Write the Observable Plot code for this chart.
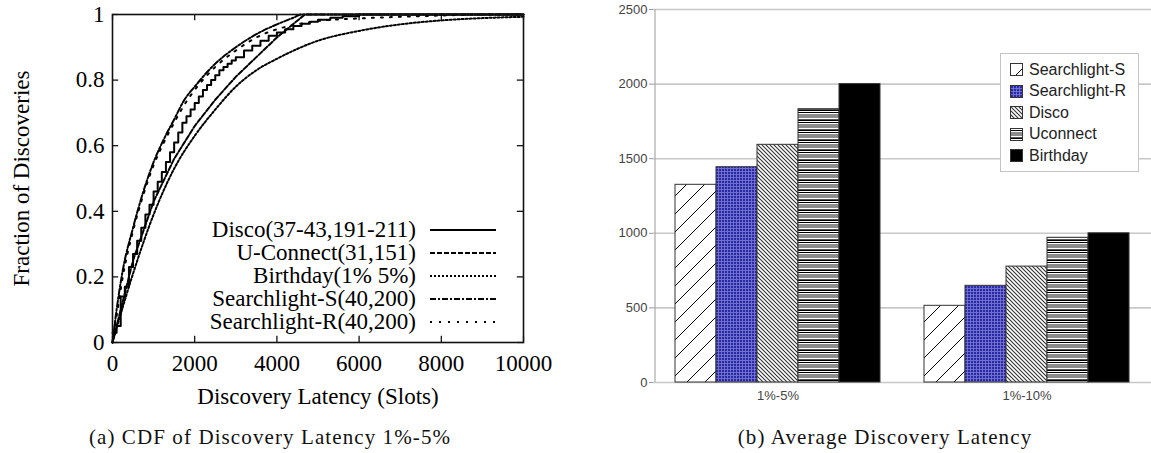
<!DOCTYPE html>
<html><head><meta charset="utf-8">
<script src="https://cdn.jsdelivr.net/npm/d3@7"></script>
<script src="https://cdn.jsdelivr.net/npm/@observablehq/plot@0.6"></script>
<style>
body{margin:0;background:#fff;width:1151px;height:453px;position:relative;overflow:hidden}
#left{position:absolute;left:0;top:0}
#right{position:absolute;left:600px;top:0}
.cap{position:absolute;font-family:"Liberation Serif",serif;font-size:21px;letter-spacing:1.1px;color:#111;white-space:nowrap;transform:translate(-50%,-50%)}
#lleg{position:absolute;left:64px;top:218px;font-family:"Liberation Serif",serif;font-size:23px;color:#000}
#lleg .row{display:flex;align-items:center;justify-content:flex-end;height:23px;width:433px}
#lleg svg{margin-left:13px}
#rleg{position:absolute;left:1000px;top:53px;width:139px;height:119px;border:1px solid #c4c4c4;background:#fff;font-family:"Liberation Sans",Arial,sans-serif;font-size:16px;color:#222;box-sizing:border-box;padding-top:5px}
#rleg .row{display:flex;align-items:center;height:21.5px;padding-left:9px}
#rleg svg{margin-right:6px}
</style></head><body>
<svg width="0" height="0" style="position:absolute">
<defs>
<pattern id="pSS" patternUnits="userSpaceOnUse" width="18" height="18">
<rect width="18" height="18" fill="#fff"/>
<path d="M0,18L18,0M-2,2L2,-2M16,20L20,16" stroke="#000" stroke-width="1"/>
</pattern>
<pattern id="pSR" patternUnits="userSpaceOnUse" width="3" height="3">
<rect width="3" height="3" fill="#2a2aa6"/>
<path d="M0,0.5H3M0.5,0V3" stroke="#7b7bd6" stroke-width="0.8"/>
</pattern>
<pattern id="pDI" patternUnits="userSpaceOnUse" width="4" height="4">
<rect width="4" height="4" fill="#fff"/>
<path d="M0,0L4,4M-1,3L1,5M3,-1L5,1" stroke="#333" stroke-width="1.1"/>
</pattern>
<pattern id="pUC" patternUnits="userSpaceOnUse" width="10" height="10">
<rect width="10" height="10" fill="#fff"/>
<rect y="0" width="10" height="1" fill="#000"/>
<rect y="2" width="10" height="1" fill="#000"/>
<rect y="4" width="10" height="4" fill="#8c8c8c"/>
<rect y="9" width="10" height="1" fill="#555"/>
</pattern>
</defs></svg>
<div id="left"></div>
<div id="right"></div>
<div id="lleg"></div>
<div id="rleg"></div>
<div class="cap" style="left:270px;top:437px">(a) CDF of Discovery Latency 1%-5%</div>
<div class="cap" style="left:885px;top:437px">(b) Average Discovery Latency</div>
<script>
// ---------- Left chart data (CDF of discovery latency, 1%-5%) ----------
const xTicks = [0, 2000, 4000, 6000, 8000, 10000];
const yTicks = [0, 0.2, 0.4, 0.6, 0.8, 1];

const discoName = "Disco(37-43,191-211)";
const discoX = [0,100,200,300,400,500,600,700,800,900,1000,1100,1200,1300,1400,1500,1600,1700,1800,1900,2000,2100,2200,2300,2400,2500,2600,2700,2800,2900,3000,3200,3400,3600,3800,4000,4200,4400,4600,4800,5000,5300,5600,6000,10000];
const discoY = [0.03,0.05,0.14,0.17,0.23,0.27,0.31,0.35,0.39,0.42,0.46,0.49,0.52,0.55,0.58,0.61,0.64,0.67,0.69,0.71,0.73,0.75,0.77,0.785,0.8,0.815,0.83,0.84,0.85,0.86,0.87,0.89,0.905,0.92,0.935,0.945,0.955,0.965,0.972,0.978,0.984,0.99,0.995,1,1];

const uconName = "U-Connect(31,151)";
const uconX = [0,200,500,1000,1500,2000,2500,3000,3500,4000,4681,10000];
const uconY = [0,0.1,0.25,0.43,0.56,0.66,0.74,0.81,0.87,0.93,1,1];

const bdayName = "Birthday(1% 5%)";
const bdayX = [0,500,1000,1500,2000,2500,3000,3500,4000,5000,6000,7000,8000,9000,10000];
const bdayY = [0,0.21,0.39,0.53,0.63,0.71,0.78,0.83,0.865,0.92,0.95,0.97,0.982,0.989,0.993];

const slsName = "Searchlight-S(40,200)";
const slsX = [0,100,250,500,750,1000,1250,1500,1750,2000,2500,3000,3500,4000,4400,4600,10000];
const slsY = [0,0.1,0.22,0.35,0.46,0.55,0.62,0.68,0.74,0.78,0.85,0.9,0.94,0.97,0.99,1,1];

const slrName = "Searchlight-R(40,200)";
const slrX = [0,100,250,500,750,1000,1250,1500,1750,2000,2500,3000,3500,4000,4500,5000,6000,7000,8000,9000,10000];
const slrY = [0,0.08,0.2,0.34,0.45,0.54,0.61,0.67,0.725,0.77,0.84,0.89,0.93,0.955,0.97,0.98,0.988,0.993,0.997,1,1];

const cdfSeries = [
  {name: discoName, xs: discoX, ys: discoY, dash: null, curve: "step-after"},
  {name: uconName, xs: uconX, ys: uconY, dash: "5,2", curve: "linear"},
  {name: bdayName, xs: bdayX, ys: bdayY, dash: "2,2", curve: "monotone-x"},
  {name: slsName, xs: slsX, ys: slsY, dash: "6,2,2,2", curve: "monotone-x"},
  {name: slrName, xs: slrX, ys: slrY, dash: "2,7", curve: "monotone-x"}
];

// ---------- Right chart data (average discovery latency) ----------
const groups = ["1%-5%", "1%-10%"];
const protocols = ["Searchlight-S", "Searchlight-R", "Disco", "Uconnect", "Birthday"];
const latency5 = [1325, 1443, 1593, 1832, 2000];
const latency10 = [514, 648, 777, 970, 1000];
const barTicks = [0, 500, 1000, 1500, 2000, 2500];
const patternFills = ["url(#pSS)", "url(#pSR)", "url(#pDI)", "url(#pUC)", "#000"];

// ---------- Left chart ----------
const leftMarks = [
  Plot.axisX(xTicks, {tickSize: 0, tickPadding: 12, tickFormat: d => String(d), label: "Discovery Latency (Slots)", labelAnchor: "center", labelOffset: 61, labelArrow: "none"}),
  Plot.axisY(yTicks, {tickSize: 0, tickPadding: 8, tickFormat: d => String(d), label: "Fraction of Discoveries", labelAnchor: "center", labelOffset: 100, labelArrow: "none"}),
  Plot.ruleX(xTicks, {x: d => d, y1: 0, y2: 0.019, stroke: "#000", strokeWidth: 1.2}),
  Plot.ruleX(xTicks, {x: d => d, y1: 1, y2: 0.981, stroke: "#000", strokeWidth: 1.2}),
  Plot.ruleY(yTicks, {y: d => d, x1: 0, x2: 150, stroke: "#000", strokeWidth: 1.2}),
  Plot.ruleY(yTicks, {y: d => d, x1: 10000, x2: 9850, stroke: "#000", strokeWidth: 1.2})
];
for (const s of cdfSeries) {
  leftMarks.push(Plot.line(s.xs.map((x, i) => ({x, y: s.ys[i]})), {
    x: "x", y: "y", stroke: "#000", strokeWidth: 2, strokeDasharray: s.dash, curve: s.curve
  }));
}
leftMarks.push(Plot.frame({stroke: "#111", strokeWidth: 1.6}));

const left = Plot.plot({
  width: 560, height: 420,
  marginLeft: 112, marginRight: 37, marginTop: 14, marginBottom: 78,
  x: {domain: [0, 10000]},
  y: {domain: [0, 1]},
  style: {fontFamily: "'Liberation Serif', serif", fontSize: "23px", color: "#000", background: "transparent", overflow: "visible"},
  marks: leftMarks
});
document.getElementById("left").appendChild(left);

// left legend (HTML)
const lleg = document.getElementById("lleg");
for (const s of cdfSeries) {
  const row = document.createElement("div");
  row.className = "row";
  row.innerHTML = `<span>${s.name}</span><svg width="68" height="6"><line x1="1" y1="3" x2="67" y2="3" stroke="#000" stroke-width="2" ${s.dash ? `stroke-dasharray="${s.dash}"` : ""}/></svg>`;
  lleg.appendChild(row);
}

// ---------- Right chart ----------
const barData = [];
groups.forEach((g, gi) => protocols.forEach((p, pi) => {
  barData.push({group: g, protocol: p, value: (gi === 0 ? latency5 : latency10)[pi]});
}));

const right = Plot.plot({
  width: 551, height: 420,
  marginLeft: 52, marginRight: 0, marginTop: 9, marginBottom: 38,
  fx: {domain: groups, padding: 0, axis: "bottom", tickSize: 0, tickPadding: 8, label: null},
  x: {domain: protocols, paddingInner: 0, paddingOuter: 0.476, axis: null},
  y: {domain: [0, 2500], axis: null},
  color: {type: "ordinal", domain: protocols, range: patternFills},
  style: {fontFamily: "'Liberation Sans', Arial, sans-serif", fontSize: "13px", color: "#444", background: "transparent", overflow: "visible"},
  marks: [
    Plot.gridY(barTicks, {stroke: "#c8c8c8", strokeOpacity: 1, strokeWidth: 1.6}),
    Plot.axisY(barTicks, {tickSize: 4, tickPadding: 2, stroke: "#999", tickFormat: d => String(d), label: null}),
    Plot.ruleX([{group: groups[0], protocol: protocols[0]}], {fx: "group", x: "protocol", dx: -41, y1: 0, y2: 2500, stroke: "#aaa", strokeWidth: 1.2}),
    Plot.barY(barData, {fx: "group", x: "protocol", y: "value", fill: "protocol", stroke: "#333", strokeWidth: 1})
  ]
});
document.getElementById("right").appendChild(right);

// right legend (HTML)
const rleg = document.getElementById("rleg");
protocols.forEach((p, i) => {
  const row = document.createElement("div");
  row.className = "row";
  row.innerHTML = `<svg width="13" height="13"><rect x="0.5" y="0.5" width="12" height="12" fill="${patternFills[i]}" stroke="#333"/></svg><span>${p}</span>`;
  rleg.appendChild(row);
});
</script>
</body></html>
